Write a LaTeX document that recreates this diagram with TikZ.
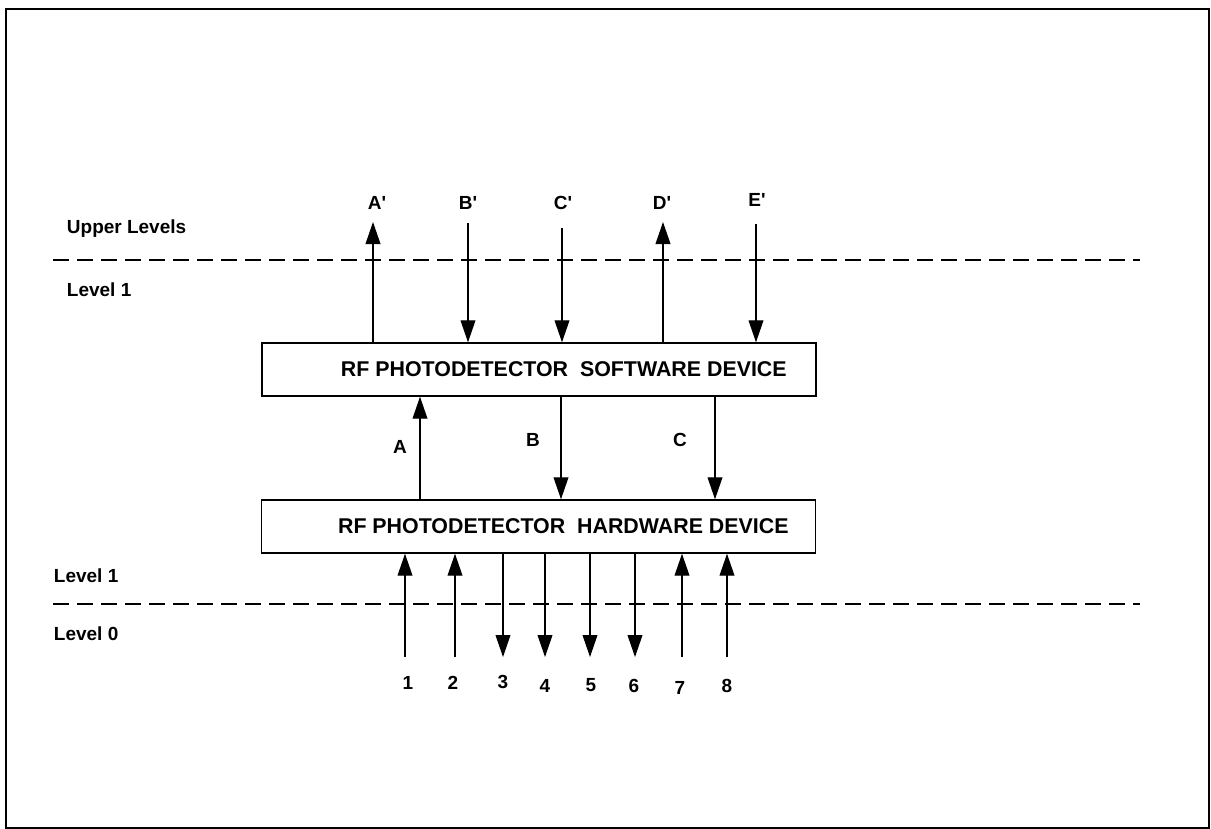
\documentclass[tikz,border=0pt]{standalone}
\usepackage{fontspec}
\setmainfont{Liberation Sans}
\usetikzlibrary{arrows.meta}

\begin{document}
\begin{tikzpicture}[x=0.025cm,y=-0.025cm,>={Triangle[length=0.55cm,width=0.37cm]},
  box/.style={draw,line width=1pt,minimum width=13.85cm,minimum height=1.325cm,inner sep=0pt},
  boxtext/.style={font=\bfseries\fontsize{15.2}{18}\selectfont,xshift=0.62cm},
  sig/.style={->,line width=0.9pt},
  lvl/.style={line width=0.8pt,dash pattern=on 0.4cm off 0.2cm},
  lab/.style={font=\bfseries\fontsize{13.5}{16}\selectfont}]
  \useasboundingbox (0,0) rectangle (1211,829);
  \draw[line width=0.8pt] (6,9) rectangle (1209,828);

  % level boundaries
  \draw[lvl] (53,260) -- (1140,260);
  \draw[lvl] (53,604) -- (1140,604);
  \node[lab,anchor=west] (upper) at (62,229) {Upper Levels};
  \node[lab,anchor=west] (lvlone) at (62,290) {Level 1};
  \node[lab,anchor=west] (lvlonelow) at (49,576) {Level 1};
  \node[lab,anchor=west] (lvlzero) at (49,634) {Level 0};

  % the two devices
  \node[box,label={[boxtext]center:RF PHOTODETECTOR\ \ SOFTWARE DEVICE}] (sw) at (539,369.5) {};
  \node[box,label={[boxtext]center:RF PHOTODETECTOR\ \ HARDWARE DEVICE}] (hw) at (538.5,526.5) {};

  % upper level signals
  \coordinate (Ap) at (373,222);
  \coordinate (Bp) at (468,223);
  \coordinate (Cp) at (562,228);
  \coordinate (Dp) at (663,222);
  \coordinate (Ep) at (756,224);
  \draw[sig] (Ap |- sw.north) -- (Ap);
  \draw[sig] (Bp) -- (Bp |- sw.north);
  \draw[sig] (Cp) -- (Cp |- sw.north);
  \draw[sig] (Dp |- sw.north) -- (Dp);
  \draw[sig] (Ep) -- (Ep |- sw.north);
  \node[lab] (lAp) at (377,203) {A\textquotesingle};
  \node[lab] (lBp) at (468,203) {B\textquotesingle};
  \node[lab] (lCp) at (563,203) {C\textquotesingle};
  \node[lab] (lDp) at (662,203) {D\textquotesingle};
  \node[lab] (lEp) at (757,200) {E\textquotesingle};

  % between software and hardware
  \coordinate (mA) at (420,450);
  \coordinate (mB) at (561,450);
  \coordinate (mC) at (715,450);
  \draw[sig] (mA |- hw.north) -- (mA |- sw.south);
  \draw[sig] (mB |- sw.south) -- (mB |- hw.north);
  \draw[sig] (mC |- sw.south) -- (mC |- hw.north);
  \node[lab] (lA) at (400,447) {A};
  \node[lab] (lB) at (533,440) {B};
  \node[lab] (lC) at (680,440) {C};

  % level 0 signals
  \coordinate (p1) at (405,657);
  \coordinate (p2) at (455,657);
  \coordinate (p3) at (503,657);
  \coordinate (p4) at (545,657);
  \coordinate (p5) at (590,657);
  \coordinate (p6) at (635,657);
  \coordinate (p7) at (682,657);
  \coordinate (p8) at (727,657);
  \draw[sig] (p1) -- (p1 |- hw.south);
  \draw[sig] (p2) -- (p2 |- hw.south);
  \draw[sig] (p3 |- hw.south) -- (p3);
  \draw[sig] (p4 |- hw.south) -- (p4);
  \draw[sig] (p5 |- hw.south) -- (p5);
  \draw[sig] (p6 |- hw.south) -- (p6);
  \draw[sig] (p7) -- (p7 |- hw.south);
  \draw[sig] (p8) -- (p8 |- hw.south);
  \node[lab] (n1) at (408,683) {1};
  \node[lab] (n2) at (453,683) {2};
  \node[lab] (n3) at (503,682) {3};
  \node[lab] (n4) at (545,686) {4};
  \node[lab] (n5) at (591,685) {5};
  \node[lab] (n6) at (634,686) {6};
  \node[lab] (n7) at (680,688) {7};
  \node[lab] (n8) at (727,686) {8};
\end{tikzpicture}
\end{document}
